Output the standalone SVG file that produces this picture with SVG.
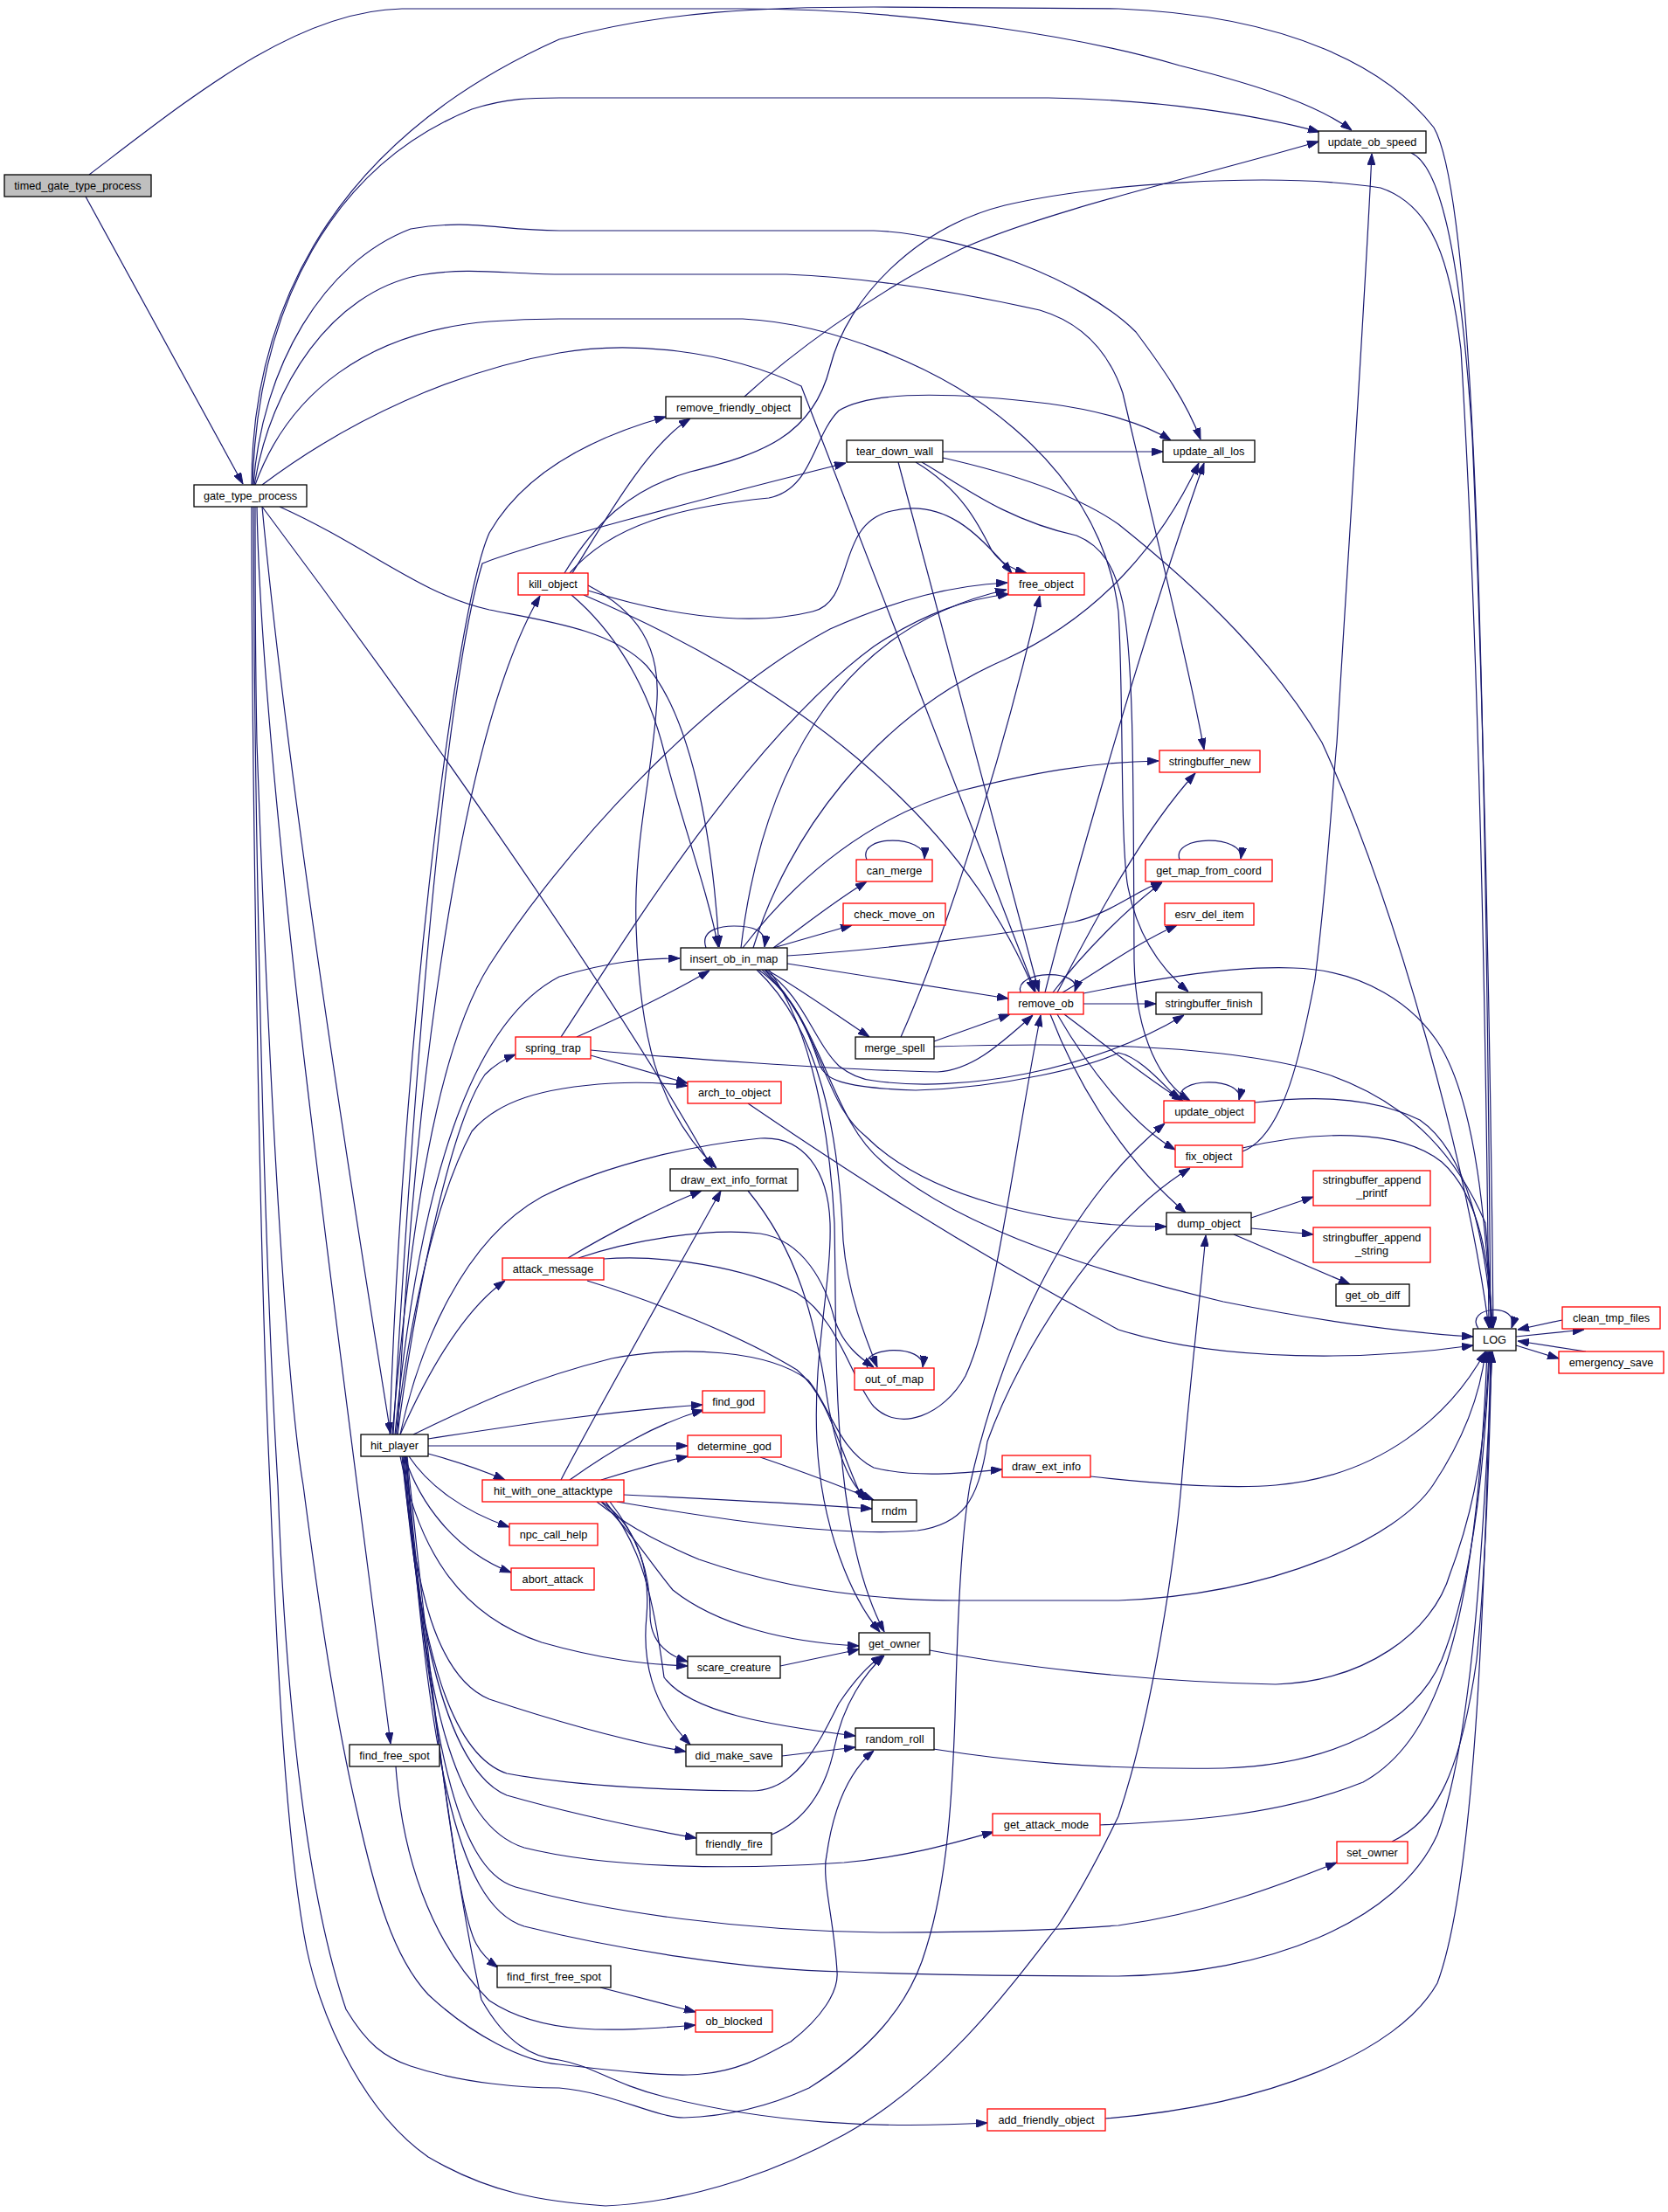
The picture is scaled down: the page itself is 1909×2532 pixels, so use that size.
<svg xmlns="http://www.w3.org/2000/svg" width="1909" height="2532" viewBox="0 0 1909 2532">
<style>
.e{fill:none;stroke:#191970;stroke-width:1.2}
rect{fill:#fff;stroke:#000;stroke-width:1.3}
.r rect{stroke:#ff0000}
.g rect{fill:#bfbfbf}
text{font-family:"Liberation Sans",Arial,Helvetica,sans-serif;font-size:12.7px;text-anchor:middle;fill:#000}
</style>
<defs>
<marker id="a" viewBox="0 0 13 9" refX="13" refY="4.5" markerWidth="13" markerHeight="9" markerUnits="userSpaceOnUse" orient="auto">
<path d="M0,0 L13,4.5 L0,9 z" fill="#191970" stroke="#191970" stroke-width="1"/>
</marker>
</defs>
<rect x="0" y="0" width="1909" height="2532" style="fill:#fff;stroke:none"/>
<g id="edges" marker-end="url(#a)">
<path class="e" d="M98,225 L278,554"/>
<path class="e" d="M102,200 C220,110 340,12 460,10 L850,10 C1050,10 1250,45 1350,75 C1450,100 1510,122 1547,149"/>
<path class="e" d="M288,555 C288,380 360,170 640,45 C760,12 880,8 1000,8 L1280,10 C1480,18 1590,80 1641,146 C1690,230 1700,800 1706,1520"/>
<path class="e" d="M289,555 C295,350 380,190 540,125 C580,112 610,112 640,112 L1200,112 C1330,114 1440,132 1510,151"/>
<path class="e" d="M290,555 C300,420 370,300 470,262 C540,250 570,264 640,264 L1000,264 C1100,268 1240,320 1300,380 C1330,420 1358,460 1374,503"/>
<path class="e" d="M291,555 C310,440 380,335 480,315 C540,305 580,314 640,314 L900,314 C1000,318 1100,335 1190,355 C1240,370 1270,405 1285,450 C1320,600 1360,760 1378,858"/>
<path class="e" d="M292,555 C330,450 420,380 560,368 C600,365 620,365 640,365 L850,365 C950,370 1080,420 1160,490 C1230,550 1270,620 1280,700 C1286,800 1282,950 1290,1010 C1300,1070 1330,1110 1360,1135"/>
<path class="e" d="M300,555 C400,480 520,425 640,404 C720,390 830,400 917,442 L1185,1135"/>
<path class="e" d="M320,580 C420,625 480,680 560,698 C620,710 700,720 740,762 C790,820 815,950 823,1084"/>
<path class="e" d="M300,580 C450,780 700,1130 815,1337"/>
<path class="e" d="M300,580 C330,900 400,1350 447,1641"/>
<path class="e" d="M294,580 C300,900 390,1550 447,1996"/>
<path class="e" d="M292,580 C292,700 293,800 294,850 C310,1300 330,1600 347,1700 C360,1800 380,1950 408,2071 C430,2170 450,2240 490,2283 C540,2330 600,2360 640,2363 C700,2370 770,2378 803,2374 C850,2370 880,2350 905,2337 C940,2310 960,2280 958,2257 C955,2200 940,2150 946,2124 C955,2060 975,2025 1000,2004"/>
<path class="e" d="M288,580 C288,800 295,1400 309,1700 C315,1850 325,2100 351,2231 C370,2320 420,2420 490,2469 C560,2510 620,2520 693,2525 C800,2520 900,2480 967,2443 C1080,2380 1160,2270 1211,2204 C1240,2160 1265,2110 1280,2079 C1320,1960 1345,1780 1352,1700 C1360,1600 1372,1500 1380,1414"/>
<path class="e" d="M290,580 C291,900 300,1400 318,1700 C325,1900 345,2150 396,2300 C420,2340 440,2355 470,2365 C530,2385 600,2390 640,2390 C700,2395 750,2424 783,2424 C850,2422 900,2402 926,2390 C990,2350 1040,2300 1060,2230 C1085,2150 1090,2050 1093,1965 C1096,1850 1100,1760 1110,1700 C1150,1520 1230,1370 1333,1286"/>
<path class="e" d="M852,454 C900,410 990,340 1100,285 C1200,240 1380,200 1509,162"/>
<path class="e" d="M1079,517 L1331,517"/>
<path class="e" d="M1048,529 C1100,560 1120,600 1135,630 C1145,645 1160,652 1175,656"/>
<path class="e" d="M1028,529 L1189,1135"/>
<path class="e" d="M1079,524 C1150,540 1230,565 1280,600 C1380,680 1460,760 1513,850 C1600,1040 1680,1338 1704,1520"/>
<path class="e" d="M1055,529 C1100,555 1150,595 1232,613 C1262,625 1276,650 1285,690 C1298,760 1297,900 1298,1100 C1300,1190 1330,1240 1362,1260"/>
<path class="e" d="M655,656 C690,600 740,510 790,479"/>
<path class="e" d="M652,656 C700,600 780,580 880,570 C930,560 930,500 960,470 C1000,445 1100,450 1200,462 C1260,470 1310,485 1340,504"/>
<path class="e" d="M646,656 C680,600 720,560 790,540 C870,520 930,500 950,420 C970,340 1050,260 1150,235 C1250,212 1450,195 1580,215 C1640,235 1660,300 1672,400 C1690,700 1700,1100 1704,1520"/>
<path class="e" d="M673,676 C750,700 850,720 930,700 C980,688 955,600 1020,585 C1080,570 1120,610 1158,656"/>
<path class="e" d="M668,681 C900,780 1100,930 1184,1135"/>
<path class="e" d="M654,681 C700,720 740,780 760,860 C780,940 810,1020 822,1084"/>
<path class="e" d="M673,670 C730,700 755,740 752,800 C748,880 725,960 728,1060 C732,1180 750,1270 820,1337"/>
<path class="e" d="M446,1642 C460,1200 520,700 560,610 C600,540 680,500 762,477"/>
<path class="e" d="M450,1642 C470,1300 505,800 552,645 C600,625 800,572 968,530"/>
<path class="e" d="M455,1642 C470,1300 520,850 618,682"/>
<path class="e" d="M449,1642 C470,1400 500,1200 560,1105 C640,980 800,800 950,720 C1030,685 1090,670 1153,667"/>
<path class="e" d="M452,1642 C480,1350 540,1170 640,1118 C700,1100 740,1097 778,1097"/>
<path class="e" d="M455,1642 C480,1450 520,1280 555,1230 C565,1220 575,1213 590,1207"/>
<path class="e" d="M453,1642 C470,1500 500,1370 540,1295 C570,1260 620,1245 700,1240 C740,1238 765,1240 787,1243"/>
<path class="e" d="M458,1642 C490,1570 530,1500 578,1466"/>
<path class="e" d="M458,1642 C480,1540 530,1420 620,1370 C700,1330 800,1310 870,1303 C920,1300 948,1340 950,1400 C952,1470 930,1550 935,1650 C940,1750 975,1830 1007,1868"/>
<path class="e" d="M473,1642 C540,1610 600,1580 700,1555 C780,1540 880,1545 925,1580 C950,1610 960,1660 1000,1680 C1050,1692 1100,1686 1147,1682"/>
<path class="e" d="M490,1647 C600,1630 700,1615 804,1608"/>
<path class="e" d="M490,1655 L787,1655"/>
<path class="e" d="M490,1664 C520,1672 550,1682 578,1694"/>
<path class="e" d="M468,1667 C490,1700 530,1730 583,1748"/>
<path class="e" d="M463,1667 C480,1720 520,1775 585,1800"/>
<path class="e" d="M458,1667 C480,1780 530,1850 620,1880 C690,1900 740,1905 787,1907"/>
<path class="e" d="M460,1667 C475,1820 500,1920 560,1945 C620,1965 700,1990 785,2005"/>
<path class="e" d="M461,1667 C480,1900 520,2010 580,2030 C660,2045 780,2050 860,2050 C910,2050 935,2000 960,1950 C980,1920 995,1905 1010,1895"/>
<path class="e" d="M462,1667 C480,1900 520,2030 580,2055 C650,2075 730,2092 797,2104"/>
<path class="e" d="M463,1667 C485,1950 520,2090 600,2115 C700,2140 850,2140 966,2132 C1040,2125 1090,2110 1137,2097"/>
<path class="e" d="M464,1667 C490,1980 520,2140 590,2160 C700,2190 850,2210 1007,2212 C1100,2212 1200,2210 1280,2204 C1380,2190 1460,2160 1530,2132"/>
<path class="e" d="M465,1667 C490,2000 520,2180 600,2205 C700,2230 850,2255 966,2257 C1100,2262 1200,2262 1280,2262 C1450,2260 1600,2200 1645,2100 C1690,1980 1700,1700 1708,1547"/>
<path class="e" d="M466,1667 C490,1900 520,2180 545,2225 C552,2238 560,2245 570,2252"/>
<path class="e" d="M465,1667 C480,1850 520,2150 551,2289 C580,2340 610,2355 640,2358 C680,2365 700,2385 760,2400 C880,2430 1000,2437 1130,2430"/>
<path class="e" d="M642,1187 C700,1100 850,850 1000,740 C1060,700 1110,685 1155,680"/>
<path class="e" d="M660,1187 C720,1160 780,1130 812,1111"/>
<path class="e" d="M676,1208 L787,1240"/>
<path class="e" d="M676,1202 C760,1210 960,1225 1073,1227 C1110,1225 1140,1200 1182,1162"/>
<path class="e" d="M1031,1187 C1070,1100 1140,900 1190,682"/>
<path class="e" d="M1069,1192 L1156,1161"/>
<path class="e" d="M1069,1198 C1200,1194 1400,1192 1520,1230 C1620,1265 1670,1330 1700,1400 C1705,1450 1706,1480 1707,1520"/>
<path class="e" d="M808,1085 C800,1062 830,1060 840,1060 C860,1060 878,1064 875,1084"/>
<path class="e" d="M885,1085 C920,1060 950,1035 992,1009"/>
<path class="e" d="M885,1085 L975,1059"/>
<path class="e" d="M901,1094 C1000,1088 1150,1070 1230,1055 C1270,1046 1300,1020 1330,1009"/>
<path class="e" d="M901,1103 L1154,1143"/>
<path class="e" d="M877,1110 C905,1125 940,1150 995,1187"/>
<path class="e" d="M850,1085 C900,1020 980,940 1100,905 C1180,885 1250,872 1326,871"/>
<path class="e" d="M862,1085 C900,960 1000,820 1150,755 C1260,705 1330,620 1372,530"/>
<path class="e" d="M848,1085 C870,900 950,720 1152,675"/>
<path class="e" d="M866,1110 C940,1180 960,1300 965,1420 C970,1480 990,1530 1004,1565"/>
<path class="e" d="M868,1110 C910,1140 925,1180 938,1219 C945,1235 960,1245 1048,1248 C1150,1245 1250,1220 1280,1205 C1305,1210 1330,1240 1350,1259"/>
<path class="e" d="M872,1110 C940,1170 940,1260 990,1300 C1060,1370 1200,1404 1335,1404"/>
<path class="e" d="M875,1110 C945,1180 950,1280 1010,1330 C1100,1410 1280,1462 1400,1490 C1500,1510 1600,1525 1686,1530"/>
<path class="e" d="M880,1110 C930,1180 950,1300 955,1400 C958,1550 950,1750 1012,1868"/>
<path class="e" d="M875,1110 C920,1140 930,1190 960,1220 C975,1232 990,1236 1000,1237 C1100,1252 1250,1225 1355,1162"/>
<path class="e" d="M1168,1136 C1160,1110 1240,1108 1230,1135"/>
<path class="e" d="M1240,1149 L1323,1149"/>
<path class="e" d="M1196,1136 C1220,1040 1300,750 1378,530"/>
<path class="e" d="M1205,1136 C1240,1090 1290,1040 1330,1010"/>
<path class="e" d="M1216,1136 C1260,1110 1300,1080 1347,1059"/>
<path class="e" d="M1210,1136 C1240,1080 1300,960 1368,885"/>
<path class="e" d="M1218,1161 C1270,1200 1320,1240 1354,1260"/>
<path class="e" d="M1210,1161 C1250,1230 1300,1290 1345,1316"/>
<path class="e" d="M1202,1161 C1240,1260 1300,1340 1357,1388"/>
<path class="e" d="M1240,1137 C1300,1125 1400,1105 1480,1108 C1560,1110 1620,1150 1650,1200 C1690,1270 1700,1400 1708,1520"/>
<path class="e" d="M1352,1260 C1340,1232 1425,1232 1418,1259"/>
<path class="e" d="M1436,1262 C1480,1257 1560,1250 1625,1282 C1680,1320 1700,1420 1708,1520"/>
<path class="e" d="M1422,1318 C1470,1300 1490,1200 1505,1121 C1520,1000 1525,900 1530,850 C1545,600 1562,350 1570,176"/>
<path class="e" d="M1422,1314 C1500,1295 1600,1290 1650,1330 C1695,1370 1705,1450 1708,1520"/>
<path class="e" d="M1615,175 C1650,190 1672,300 1685,500 C1698,800 1706,1200 1709,1520"/>
<path class="e" d="M1432,1394 L1503,1370"/>
<path class="e" d="M1432,1406 L1503,1413"/>
<path class="e" d="M1412,1413 L1545,1470"/>
<path class="e" d="M1692,1521 C1675,1495 1740,1490 1730,1520"/>
<path class="e" d="M1735,1530 L1813,1522"/>
<path class="e" d="M1735,1540 L1784,1555"/>
<path class="e" d="M1788,1511 L1737,1522"/>
<path class="e" d="M1815,1547 L1737,1535"/>
<path class="e" d="M856,1263 C966,1338 1089,1419 1280,1522 C1400,1560 1566,1557 1686,1540"/>
<path class="e" d="M856,1363 C912,1431 933,1507 948,1609 C958,1660 970,1700 995,1717"/>
<path class="e" d="M650,1440 C700,1410 760,1380 803,1363"/>
<path class="e" d="M662,1440 C720,1420 810,1405 870,1412 C920,1420 945,1470 955,1510 C965,1540 985,1555 1000,1565"/>
<path class="e" d="M691,1441 C760,1436 850,1450 912,1480 C960,1510 975,1580 1000,1610 C1030,1640 1080,1620 1105,1575 C1140,1500 1160,1320 1191,1162"/>
<path class="e" d="M672,1466 C750,1490 850,1530 912,1568 C950,1600 960,1660 988,1717"/>
<path class="e" d="M870,1668 C920,1685 960,1700 1000,1717"/>
<path class="e" d="M993,1566 C982,1540 1060,1538 1056,1565"/>
<path class="e" d="M992,984 C980,955 1060,955 1058,983"/>
<path class="e" d="M1350,984 C1340,955 1425,955 1420,983"/>
<path class="e" d="M642,1694 C680,1620 760,1480 825,1363"/>
<path class="e" d="M652,1694 C700,1660 750,1630 805,1614"/>
<path class="e" d="M688,1694 C720,1684 750,1675 787,1667"/>
<path class="e" d="M714,1711 C800,1715 900,1720 998,1727"/>
<path class="e" d="M683,1719 C710,1740 740,1760 800,1785 C900,1820 1000,1832 1100,1832 L1280,1832 C1460,1825 1600,1760 1640,1700 C1680,1640 1695,1590 1700,1547"/>
<path class="e" d="M688,1719 C720,1750 745,1790 770,1820 C820,1860 900,1880 983,1884"/>
<path class="e" d="M698,1719 C730,1760 745,1800 744,1850 C745,1880 765,1895 787,1902"/>
<path class="e" d="M689,1719 C725,1745 745,1790 740,1850 C735,1900 745,1950 790,1997"/>
<path class="e" d="M693,1719 C735,1770 748,1830 760,1920 C790,1960 880,1975 979,1987"/>
<path class="e" d="M706,1719 C800,1735 950,1760 1050,1752 C1100,1745 1120,1720 1130,1650 C1170,1540 1260,1400 1362,1337"/>
<path class="e" d="M1064,1889 C1150,1905 1300,1925 1460,1928 C1560,1925 1640,1870 1660,1800 C1690,1720 1700,1650 1704,1547"/>
<path class="e" d="M893,1907 L983,1888"/>
<path class="e" d="M1068,2002 C1150,2015 1250,2026 1400,2024 C1530,2020 1620,1970 1650,1900 C1690,1800 1700,1650 1705,1547"/>
<path class="e" d="M895,2010 L979,2000"/>
<path class="e" d="M883,2100 C920,2085 945,2050 955,2000 C965,1950 990,1915 1012,1895"/>
<path class="e" d="M1258,2089 C1350,2085 1460,2080 1560,2040 C1650,1990 1690,1850 1702,1547"/>
<path class="e" d="M1593,2108 C1640,2085 1670,2040 1690,1900 C1700,1800 1705,1650 1707,1547"/>
<path class="e" d="M1265,2425 C1450,2410 1600,2350 1645,2270 C1690,2150 1700,1800 1706,1547"/>
<path class="e" d="M1248,1690 C1320,1698 1400,1705 1460,1700 C1580,1690 1660,1620 1700,1547"/>
<path class="e" d="M453,2022 C460,2120 490,2220 560,2290 C620,2330 700,2326 796,2318"/>
<path class="e" d="M687,2275 L796,2303"/>
</g>
<g id="n_timed" class="g"><rect x="5" y="200" width="168" height="25"/><text x="89" y="217">timed_gate_type_process</text></g>
<g id="n_gate"><rect x="222" y="555" width="129" height="25"/><text x="286.5" y="572">gate_type_process</text></g>
<g id="n_update_ob_speed"><rect x="1509" y="150" width="123" height="25"/><text x="1570.5" y="167">update_ob_speed</text></g>
<g id="n_remove_friendly_object"><rect x="762" y="454" width="155" height="25"/><text x="839.5" y="471">remove_friendly_object</text></g>
<g id="n_tear_down_wall"><rect x="969" y="504" width="110" height="25"/><text x="1024" y="521">tear_down_wall</text></g>
<g id="n_update_all_los"><rect x="1331" y="504" width="105" height="25"/><text x="1383.5" y="521">update_all_los</text></g>
<g id="n_kill_object" class="r"><rect x="593" y="656" width="80" height="25"/><text x="633" y="673">kill_object</text></g>
<g id="n_free_object" class="r"><rect x="1154" y="656" width="87" height="25"/><text x="1197.5" y="673">free_object</text></g>
<g id="n_stringbuffer_new" class="r"><rect x="1327" y="859" width="115" height="25"/><text x="1384.5" y="876">stringbuffer_new</text></g>
<g id="n_can_merge" class="r"><rect x="980" y="984" width="87" height="25"/><text x="1023.5" y="1001">can_merge</text></g>
<g id="n_get_map_from_coord" class="r"><rect x="1311" y="984" width="145" height="25"/><text x="1383.5" y="1001">get_map_from_coord</text></g>
<g id="n_check_move_on" class="r"><rect x="965" y="1034" width="117" height="25"/><text x="1023.5" y="1051">check_move_on</text></g>
<g id="n_esrv_del_item" class="r"><rect x="1333" y="1034" width="102" height="25"/><text x="1384" y="1051">esrv_del_item</text></g>
<g id="n_insert_ob_in_map"><rect x="779" y="1085" width="122" height="25"/><text x="840" y="1102">insert_ob_in_map</text></g>
<g id="n_remove_ob" class="r"><rect x="1154" y="1136" width="86" height="25"/><text x="1197" y="1153">remove_ob</text></g>
<g id="n_stringbuffer_finish"><rect x="1323" y="1136" width="121" height="25"/><text x="1383.5" y="1153">stringbuffer_finish</text></g>
<g id="n_spring_trap" class="r"><rect x="590" y="1187" width="86" height="25"/><text x="633" y="1204">spring_trap</text></g>
<g id="n_merge_spell"><rect x="979" y="1187" width="90" height="25"/><text x="1024" y="1204">merge_spell</text></g>
<g id="n_arch_to_object" class="r"><rect x="787" y="1238" width="107" height="25"/><text x="840.5" y="1255">arch_to_object</text></g>
<g id="n_update_object" class="r"><rect x="1332" y="1260" width="104" height="25"/><text x="1384" y="1277">update_object</text></g>
<g id="n_fix_object" class="r"><rect x="1345" y="1311" width="77" height="25"/><text x="1383.5" y="1328">fix_object</text></g>
<g id="n_draw_ext_info_format"><rect x="767" y="1338" width="146" height="25"/><text x="840" y="1355">draw_ext_info_format</text></g>
<g id="n_sb_append_printf" class="r"><rect x="1503" y="1340" width="134" height="40"/><text x="1570" y="1355">stringbuffer_append</text><text x="1570" y="1370">_printf</text></g>
<g id="n_dump_object"><rect x="1335" y="1388" width="97" height="25"/><text x="1383.5" y="1405">dump_object</text></g>
<g id="n_sb_append_string" class="r"><rect x="1503" y="1405" width="134" height="40"/><text x="1570" y="1421">stringbuffer_append</text><text x="1570" y="1436">_string</text></g>
<g id="n_attack_message" class="r"><rect x="575" y="1440" width="116" height="25"/><text x="633" y="1457">attack_message</text></g>
<g id="n_get_ob_diff"><rect x="1529" y="1470" width="84" height="25"/><text x="1571" y="1487">get_ob_diff</text></g>
<g id="n_clean_tmp_files" class="r"><rect x="1788" y="1496" width="112" height="25"/><text x="1844" y="1513">clean_tmp_files</text></g>
<g id="n_LOG"><rect x="1686" y="1521" width="49" height="25"/><text x="1710.5" y="1538">LOG</text></g>
<g id="n_emergency_save" class="r"><rect x="1784" y="1547" width="120" height="25"/><text x="1844" y="1564">emergency_save</text></g>
<g id="n_out_of_map" class="r"><rect x="978" y="1566" width="91" height="25"/><text x="1023.5" y="1583">out_of_map</text></g>
<g id="n_find_god" class="r"><rect x="804" y="1592" width="71" height="25"/><text x="839.5" y="1609">find_god</text></g>
<g id="n_hit_player"><rect x="413" y="1642" width="77" height="25"/><text x="451.5" y="1659">hit_player</text></g>
<g id="n_determine_god" class="r"><rect x="787" y="1643" width="107" height="25"/><text x="840.5" y="1660">determine_god</text></g>
<g id="n_draw_ext_info" class="r"><rect x="1147" y="1666" width="101" height="25"/><text x="1197.5" y="1683">draw_ext_info</text></g>
<g id="n_hit_with_one_attacktype" class="r"><rect x="552" y="1694" width="162" height="25"/><text x="633" y="1711">hit_with_one_attacktype</text></g>
<g id="n_rndm"><rect x="998" y="1717" width="51" height="25"/><text x="1023.5" y="1734">rndm</text></g>
<g id="n_npc_call_help" class="r"><rect x="583" y="1744" width="101" height="25"/><text x="633.5" y="1761">npc_call_help</text></g>
<g id="n_abort_attack" class="r"><rect x="585" y="1795" width="95" height="25"/><text x="632.5" y="1812">abort_attack</text></g>
<g id="n_get_owner"><rect x="983" y="1869" width="81" height="25"/><text x="1023.5" y="1886">get_owner</text></g>
<g id="n_scare_creature"><rect x="787" y="1896" width="106" height="25"/><text x="840" y="1913">scare_creature</text></g>
<g id="n_random_roll"><rect x="979" y="1978" width="90" height="25"/><text x="1024" y="1995">random_roll</text></g>
<g id="n_find_free_spot"><rect x="400" y="1997" width="103" height="25"/><text x="451.5" y="2014">find_free_spot</text></g>
<g id="n_did_make_save"><rect x="785" y="1997" width="110" height="25"/><text x="840" y="2014">did_make_save</text></g>
<g id="n_get_attack_mode" class="r"><rect x="1136" y="2076" width="123" height="25"/><text x="1197.5" y="2093">get_attack_mode</text></g>
<g id="n_friendly_fire"><rect x="797" y="2098" width="86" height="25"/><text x="840" y="2115">friendly_fire</text></g>
<g id="n_set_owner" class="r"><rect x="1530" y="2108" width="81" height="25"/><text x="1570.5" y="2125">set_owner</text></g>
<g id="n_find_first_free_spot"><rect x="569" y="2250" width="130" height="25"/><text x="634" y="2267">find_first_free_spot</text></g>
<g id="n_ob_blocked" class="r"><rect x="796" y="2301" width="88" height="25"/><text x="840" y="2318">ob_blocked</text></g>
<g id="n_add_friendly_object" class="r"><rect x="1130" y="2414" width="135" height="25"/><text x="1197.5" y="2431">add_friendly_object</text></g>
</svg>
